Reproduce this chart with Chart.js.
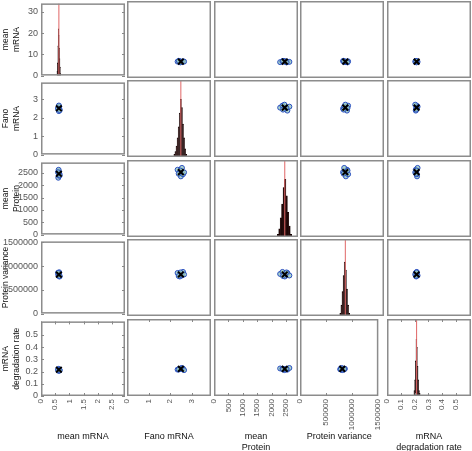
<!DOCTYPE html>
<html>
<head>
<meta charset="utf-8">
<script src="https://cdn.jsdelivr.net/npm/chart.js@4"></script>
<style>
  body { margin: 0; background: #fff; width: 472px; height: 451px; position: relative; overflow: hidden; }
  canvas { position: absolute; }
</style>
</head>
<body>
<script>
// plot matrix of the posterior samples, histograms on the diagonal

const leftNames = [['mean', 'mRNA'], ['Fano', 'mRNA'], ['mean', 'Protein'], 'Protein variance', ['mRNA', 'degradation rate']];
const bottomNames = [['mean mRNA', ''], ['Fano mRNA', ''], ['mean', 'Protein'], ['Protein variance', ''], ['mRNA', 'degradation rate']];

// axis ranges + tick labels per variable
const axisMax = [2.96, 3.9, 2920, 1520000, 0.61];
const ticksMRNA = [0, 0.5, 1, 1.5, 2, 2.5];
const ticksFano = [0, 1, 2, 3];
const ticksProtein = [0, 500, 1000, 1500, 2000, 2500];
const ticksProtVar = [0, 500000, 1000000, 1500000];
const ticksDeg = [0, 0.1, 0.2, 0.3, 0.4, 0.5];
const countTicks = [0, 10, 20, 30];

// true parameter values (black crosses, red lines)
const trueValues = [0.63, 2.5, 2460, 820000, 0.215];

// accepted samples (blue circles)
const sampleMRNA = [0.61, 0.65, 0.63, 0.64, 0.62, 0.63, 0.60, 0.66];
const sampleFano = [2.50, 2.45, 2.35, 2.60, 2.55, 2.65, 2.48, 2.40];
const sampleProtein = [2300, 2460, 2550, 2380, 2620, 2450, 2520, 2400];
const sampleProtVar = [830000, 780000, 850000, 870000, 800000, 820000, 860000, 790000];
const sampleDeg = [0.218, 0.212, 0.209, 0.216, 0.222, 0.205, 0.214, 0.211];

// histograms (bin centres / counts)
const binsMRNA = [0.57, 0.585, 0.60, 0.615, 0.63, 0.645, 0.66, 0.675, 0.69];
const countsMRNA = [2, 6, 14, 22, 19, 13, 8, 4, 1];
const binsFano = [2.20, 2.25, 2.30, 2.35, 2.40, 2.45, 2.50, 2.55, 2.60, 2.65, 2.70, 2.75];
const countsFano = [1, 2, 4, 7, 11, 16, 21, 18, 12, 7, 3, 1];
const binsProtein = [2225, 2275, 2325, 2375, 2425, 2475, 2525, 2575, 2625, 2675];
const countsProtein = [1, 3, 7, 12, 18, 21, 15, 9, 4, 1];
const binsProtVar = [730000, 750000, 770000, 790000, 810000, 830000, 850000, 870000, 890000];
const countsProtVar = [1, 4, 9, 15, 20, 17, 10, 4, 1];
const binsDeg = [0.198, 0.203, 0.208, 0.213, 0.218, 0.223, 0.228, 0.233, 0.238];
const countsDeg = [2, 6, 13, 21, 18, 11, 6, 2, 1];
const histYMax = [34, 28, 28, 28.5, 28.5];

const axisTicks = [ticksMRNA, ticksFano, ticksProtein, ticksProtVar, ticksDeg];
const samples = [sampleMRNA, sampleFano, sampleProtein, sampleProtVar, sampleDeg];
const histBins = [binsMRNA, binsFano, binsProtein, binsProtVar, binsDeg];
const histCounts = [countsMRNA, countsFano, countsProtein, countsProtVar, countsDeg];

// layout
const colLeft = [41, 127, 214, 300, 387];
const rowTop = [1, 80, 160, 239, 319];
const cellW = 84, cellH = 77;
const leftW = 41;
const bottomH = 451 - (rowTop[4] + cellH);
const edge = 6; // spare room so edge tick labels are not clipped
const FONT = "'Liberation Sans', Arial, sans-serif";

// box round each panel + small inward tick marks
const frame = {
    id: 'frame',
    afterDraw(chart) {
        const { ctx, chartArea: a } = chart;
        ctx.save();
        ctx.strokeStyle = '#8c8c8c';
        ctx.lineWidth = 1.5;
        ctx.strokeRect(a.left + 0.75, a.top + 0.75, a.right - a.left - 1.5, a.bottom - a.top - 1.5);
        ctx.strokeStyle = '#888';
        ctx.lineWidth = 1;
        ctx.beginPath();
        const ys = chart.scales.y;
        if (ys.options.display) {
            ys.ticks.forEach(t => {
                const p = Math.round(ys.getPixelForValue(t.value)) + 0.5;
                ctx.moveTo(a.left, p); ctx.lineTo(a.left + 3, p);
                ctx.moveTo(a.right - 3, p); ctx.lineTo(a.right, p);
            });
        }
        const xs = chart.scales.x;
        if (xs.options.display) {
            xs.ticks.forEach(t => {
                const p = Math.round(xs.getPixelForValue(t.value)) + 0.5;
                ctx.moveTo(p, a.bottom); ctx.lineTo(p, a.bottom - 3);
                ctx.moveTo(p, a.top); ctx.lineTo(p, a.top + 3);
            });
        }
        ctx.stroke();
        ctx.restore();
    }
};

function makeScale(axis, max, ticks, shown, title) {
    const sc = {
        type: 'linear',
        min: 0,
        max: max,
        offset: false,
        display: shown,
        grid: { display: false, drawTicks: false },
        border: { display: false },
        afterBuildTicks: s => { s.ticks = ticks.map(v => ({ value: v })); },
        ticks: {
            font: { family: FONT, size: axis === 'x' ? 8 : 9 },
            color: '#555',
            padding: 3,
            autoSkip: false,
            callback: v => String(v)
        }
    };
    if (shown) {
        sc.title = {
            display: true,
            text: title,
            font: { family: FONT, size: axis === 'x' ? 9 : 8.5, lineHeight: axis === 'x' ? 1.2 : 1.3 },
            color: '#111',
            padding: axis === 'x' ? { top: 0, bottom: -2 } : { top: 0, bottom: 0 }
        };
        if (axis === 'x') {
            sc.ticks.minRotation = 90;
            sc.ticks.maxRotation = 90;
            sc.afterFit = s => { s.height = bottomH; };
        } else {
            sc.afterFit = s => { s.width = leftW; };
        }
    }
    return sc;
}

for (let r = 0; r < 5; r++) {
    for (let c = 0; c < 5; c++) {
        const extraL = c === 0 ? leftW : 0;
        const extraB = r === 4 ? bottomH : 0;
        const padL = (r === 4 && c !== 0) ? edge : 0;
        const padR = r === 4 ? edge : 0;
        const padT = c === 0 ? edge : 0;
        const padB = (c === 0 && r !== 4) ? edge : 0;

        const cv = document.createElement('canvas');
        cv.width = padL + extraL + cellW + padR;
        cv.height = padT + cellH + extraB + padB;
        cv.style.left = (colLeft[c] - extraL - padL) + 'px';
        cv.style.top = (rowTop[r] - padT) + 'px';
        document.body.appendChild(cv);

        const xScale = makeScale('x', axisMax[c], axisTicks[c], r === 4, bottomNames[c]);
        let yScale, type, datasets;

        if (r === c) {
            // diagonal: histogram + red line at the true value
            yScale = r === 0
                ? makeScale('y', histYMax[0], countTicks, true, leftNames[0])
                : { type: 'linear', min: 0, max: histYMax[r], display: false };
            type = 'bar';
            datasets = [
                {
                    type: 'line',
                    data: [{ x: trueValues[c], y: 0 }, { x: trueValues[c], y: histYMax[r] }],
                    borderColor: '#e06666',
                    borderWidth: 1,
                    pointRadius: 0
                },
                {
                    type: 'bar',
                    data: histBins[c].map((b, k) => ({ x: b, y: histCounts[c][k] })),
                    backgroundColor: '#220404',
                    borderColor: '#100000',
                    borderWidth: 0.5,
                    barPercentage: 1,
                    categoryPercentage: 1
                }
            ];
        } else {
            yScale = makeScale('y', axisMax[r], axisTicks[r], c === 0, leftNames[r]);
            type = 'scatter';
            datasets = [
                {
                    data: [{ x: trueValues[c], y: trueValues[r] }],
                    pointStyle: 'crossRot',
                    pointRadius: 4,
                    borderColor: '#000',
                    borderWidth: 2
                },
                {
                    data: samples[c].map((v, k) => ({ x: v, y: samples[r][k] })),
                    pointStyle: 'circle',
                    pointRadius: 2.5,
                    borderColor: '#2a4fc0',
                    backgroundColor: 'rgba(150,200,190,0.8)',
                    borderWidth: 1
                }
            ];
        }

        new Chart(cv, {
            type: type,
            data: { datasets: datasets },
            options: {
                responsive: false,
                animation: false,
                events: [],
                layout: { autoPadding: false, padding: { left: padL, right: padR, top: padT, bottom: padB } },
                plugins: { legend: { display: false }, tooltip: { enabled: false } },
                scales: { x: xScale, y: yScale }
            },
            plugins: [frame]
        });
    }
}
</script>
</body>
</html>
